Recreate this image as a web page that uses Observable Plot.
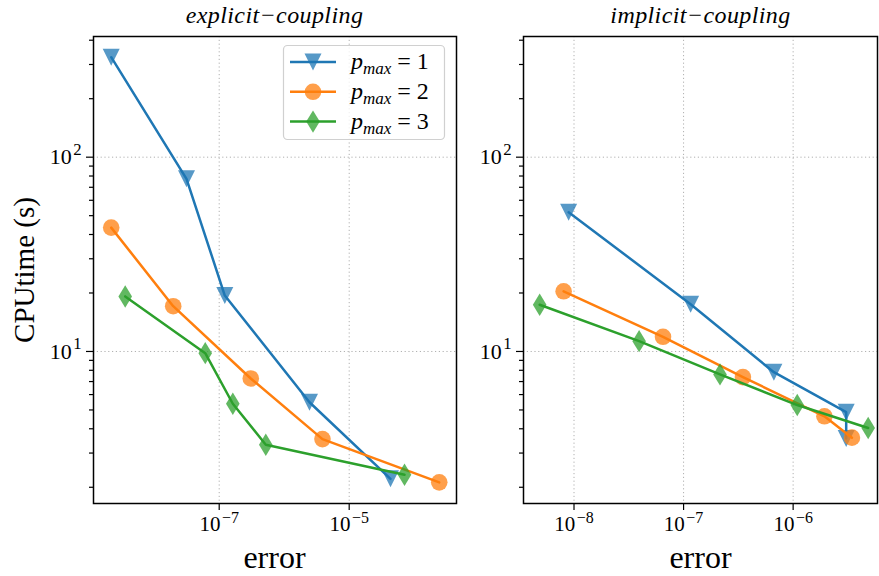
<!DOCTYPE html>
<html>
<head>
<meta charset="utf-8">
<script src="https://cdn.jsdelivr.net/npm/d3@7"></script>
<script src="https://cdn.jsdelivr.net/npm/@observablehq/plot@0.6"></script>
<style>
  html, body { margin: 0; padding: 0; background: #fff; }
  #wrap { position: relative; width: 879px; height: 576px; overflow: hidden; font-family: 'Liberation Serif', serif; }
  #wrap > svg { position: absolute; top: 0; }
  #wrap svg text { font-family: 'Liberation Serif', serif; }
</style>
</head>
<body>
<div id="wrap"></div>
<script>
// ---------------- data ----------------
const pmaxValues = [1, 2, 3];
const seriesColors = ["#1f77b4", "#ff7f0e", "#2ca02c"];

// explicit coupling
const explicitErrP1 = [2.18e-9, 3.14e-8, 1.22e-7, 2.45e-6, 4.32e-5];
const explicitCpuP1 = [327, 77.4, 19.4, 5.48, 2.21];
const explicitErrP2 = [2.18e-9, 1.96e-8, 3.06e-7, 3.88e-6, 2.43e-4];
const explicitCpuP2 = [43.4, 17.1, 7.26, 3.54, 2.12];
const explicitErrP3 = [3.58e-9, 6.10e-8, 1.62e-7, 5.21e-7, 7.10e-5];
const explicitCpuP3 = [19.2, 9.8, 5.38, 3.31, 2.32];

// implicit coupling
const implicitErrP1 = [8.93e-9, 1.16e-7, 6.67e-7, 3.05e-6, 3.05e-6];
const implicitCpuP1 = [52.1, 17.5, 7.82, 4.87, 3.56];
const implicitErrP2 = [8.04e-9, 6.49e-8, 3.48e-7, 1.93e-6, 3.44e-6];
const implicitCpuP2 = [20.4, 11.9, 7.38, 4.64, 3.60];
const implicitErrP3 = [4.86e-9, 3.93e-8, 2.15e-7, 1.09e-6, 4.84e-6];
const implicitCpuP3 = [17.4, 11.3, 7.62, 5.30, 4.04];

const panelTitles = ["explicit\u2212coupling", "implicit\u2212coupling"];
const xLabel = "error";
const yLabel = "CPUtime (s)";
const yMajorTicks = [10, 100];
const yMinorTicks = [2, 3, 4, 5, 6, 7, 8, 9, 20, 30, 40, 50, 60, 70, 80, 90, 200, 300, 400];
const leftXTicks = [1e-7, 1e-5];
const rightXTicks = [1e-8, 1e-7, 1e-6];

// ---------------- symbols ----------------
const triDown = { draw(ctx, size) { const r = Math.sqrt(size / Math.PI); ctx.moveTo(-r, -r); ctx.lineTo(r, -r); ctx.lineTo(0, r); ctx.closePath(); } };
const circ = { draw(ctx, size) { const r = Math.sqrt(size / Math.PI); ctx.moveTo(r, 0); ctx.arc(0, 0, r, 0, 2 * Math.PI); ctx.closePath(); } };
const thinDiamond = { draw(ctx, size) { const r = Math.sqrt(size / Math.PI); ctx.moveTo(0, -1.4 * r); ctx.lineTo(0.85 * r, 0); ctx.lineTo(0, 1.4 * r); ctx.lineTo(-0.85 * r, 0); ctx.closePath(); } };
const symbols = [triDown, circ, thinDiamond];
const symbolR = [8.5, 8.3, 8];

function rows(errs, cpus, p) { return errs.map((e, i) => ({ err: e, cpu: cpus[i], p })); }

const explicitSeries = [rows(explicitErrP1, explicitCpuP1, 1), rows(explicitErrP2, explicitCpuP2, 2), rows(explicitErrP3, explicitCpuP3, 3)];
const implicitSeries = [rows(implicitErrP1, implicitCpuP1, 1), rows(implicitErrP2, implicitCpuP2, 2), rows(implicitErrP3, implicitCpuP3, 3)];

const yDomain = [1.65, 418];
const fmtPow = d => "10^" + String(Math.round(Math.log10(d))).replace("-", "\u2212");

function panel(series, xDomain, xTicks, width, marginLeft, marginRight) {
  const marks = [
    Plot.gridX(xTicks, { stroke: "#b0b0b0", strokeOpacity: 1, strokeDasharray: "1.2,2.6", strokeWidth: 1 }),
    Plot.gridY(yMajorTicks, { stroke: "#b0b0b0", strokeOpacity: 1, strokeDasharray: "1.2,2.6", strokeWidth: 1 }),
    Plot.axisY(yMinorTicks, { tickSize: 4, tickFormat: () => "", strokeWidth: 1.2 }),
    Plot.axisY(yMajorTicks, { tickSize: 7, tickPadding: 5, tickFormat: fmtPow, fontSize: 22, strokeWidth: 1.2 }),
    Plot.axisX(xTicks, { tickSize: 7, tickPadding: 6, tickFormat: fmtPow, fontSize: 21, strokeWidth: 1.2 })
  ];
  series.forEach((s, i) => {
    marks.push(Plot.line(s, { x: "err", y: "cpu", stroke: seriesColors[i], strokeWidth: 2.5 }));
    marks.push(Plot.dot(s, { x: "err", y: "cpu", symbol: symbols[i], r: symbolR[i], fill: seriesColors[i], fillOpacity: 0.75, stroke: "none" }));
  });
  marks.push(Plot.frame({ stroke: "black", strokeWidth: 1.5 }));
  return Plot.plot({
    width, height: 576,
    marginLeft, marginRight, marginTop: 36, marginBottom: 73,
    style: { fontFamily: "'Liberation Serif', serif", background: "transparent", color: "black", overflow: "visible" },
    x: { type: "log", domain: xDomain, label: null },
    y: { type: "log", domain: yDomain, label: null },
    marks
  });
}

const wrap = document.getElementById("wrap");
const leftSvg = panel(explicitSeries, [10 ** -8.934, 10 ** -3.349], leftXTicks, 470, 93, 14);
const rightSvg = panel(implicitSeries, [10 ** -8.461, 10 ** -5.23], rightXTicks, 409, 53, 2);
leftSvg.style.left = "0px";
rightSvg.style.left = "470px";
wrap.appendChild(leftSvg);
wrap.appendChild(rightSvg);

// superscript tick labels
for (const svg of [leftSvg, rightSvg]) {
  svg.querySelectorAll("text").forEach(t => {
    const s = t.textContent;
    if (s.startsWith("10^")) {
      const exp = s.slice(3);
      t.textContent = "";
      const a = document.createElementNS("http://www.w3.org/2000/svg", "tspan");
      a.textContent = "10";
      const b = document.createElementNS("http://www.w3.org/2000/svg", "tspan");
      b.textContent = exp;
      b.setAttribute("font-size", "0.76em");
      b.setAttribute("dx", "1.5");
      b.setAttribute("dy", "-0.55em");
      t.appendChild(a); t.appendChild(b);
    }
  });
}

// ---------------- overlay: titles, labels, legend ----------------
const ov = d3.select(wrap).append("svg").attr("width", 879).attr("height", 576)
  .style("left", "0px").style("pointer-events", "none")
  .style("font-family", "'Liberation Serif', serif");

const centers = [274.5, 700.5];
panelTitles.forEach((t, i) => {
  ov.append("text").attr("x", centers[i]).attr("y", 23).attr("text-anchor", "middle")
    .attr("font-size", 24).attr("font-style", "italic").attr("letter-spacing", 0.4).text(t);
  ov.append("text").attr("x", centers[i]).attr("y", 568).attr("text-anchor", "middle")
    .attr("font-size", 32).text(xLabel);
});
ov.append("text").attr("transform", "translate(34,270) rotate(-90)").attr("text-anchor", "middle")
  .attr("font-size", 29).text(yLabel);

// legend
const lg = ov.append("g");
lg.append("rect").attr("x", 283.5).attr("y", 45.5).attr("width", 161).attr("height", 94).attr("rx", 4)
  .attr("fill", "white").attr("fill-opacity", 0.8).attr("stroke", "#d0d0d0").attr("stroke-width", 1.2);
pmaxValues.forEach((p, i) => {
  const y = 62 + i * 29.8;
  lg.append("line").attr("x1", 290).attr("x2", 336).attr("y1", y).attr("y2", y)
    .attr("stroke", seriesColors[i]).attr("stroke-width", 2.5);
  lg.append("path").attr("transform", `translate(313,${y})`)
    .attr("d", d3.symbol(symbols[i], Math.PI * symbolR[i] ** 2)())
    .attr("fill", seriesColors[i]).attr("fill-opacity", 0.75);
  const t = lg.append("text").attr("x", 351).attr("y", y + 7).attr("font-size", 24);
  t.append("tspan").attr("font-style", "italic").text("p");
  t.append("tspan").attr("font-style", "italic").attr("font-size", 17).attr("dy", 5).text("max");
  t.append("tspan").attr("dy", -5).text(" = " + p);
});
</script>
</body>
</html>
